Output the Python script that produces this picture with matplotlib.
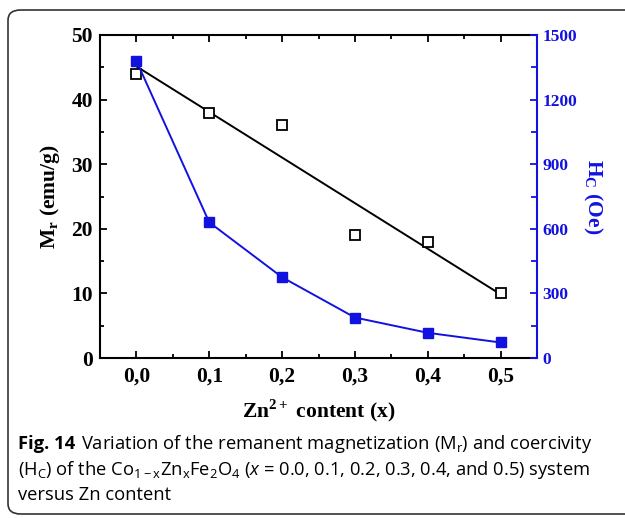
import matplotlib
matplotlib.use('Agg')
import matplotlib.pyplot as plt
import numpy as np
from matplotlib.patches import FancyBboxPatch
from matplotlib.ticker import MultipleLocator, FixedLocator, FixedFormatter

# ===== Data =====
zn_content = [0.0, 0.1, 0.2, 0.3, 0.4, 0.5]
mr_values = [44, 38, 36, 19, 18, 10]          # emu/g
hc_values = [1380, 630, 375, 188, 117, 72]   # Oe
x_ticks = [0.0, 0.1, 0.2, 0.3, 0.4, 0.5]
x_tick_labels = ['0,0', '0,1', '0,2', '0,3', '0,4', '0,5']

serif = 'Liberation Serif'
blue = '#1212e0'

plt.rcParams['mathtext.fontset'] = 'custom'
plt.rcParams['mathtext.bf'] = 'Liberation Serif:bold'
plt.rcParams['mathtext.rm'] = 'Open Sans'
plt.rcParams['mathtext.it'] = 'Open Sans:italic'

fig = plt.figure(figsize=(6.25, 5.18), dpi=100)

# rounded frame around figure + caption
frame = FancyBboxPatch((8 / 625, 4 / 518), 640 / 625, 504 / 518,
                       boxstyle='round,pad=0,rounding_size=0.02',
                       transform=fig.transFigure, fill=False,
                       edgecolor='#333333', linewidth=1.2, clip_on=False)
fig.patches.append(frame)

ax = fig.add_axes([100 / 625, 1 - 358 / 518, 437 / 625, 323 / 518])
ax2 = ax.twinx()

# ===== Mr (left axis) =====
coef = np.polyfit(zn_content, mr_values, 1)
fit_x = np.array([zn_content[0], zn_content[-1]])
ax.plot(fit_x, np.polyval(coef, fit_x), color='black', linewidth=1.4, zorder=2)
ax.plot(zn_content, mr_values, linestyle='none', marker='s', markersize=6.5,
        markerfacecolor='white', markeredgecolor='black', markeredgewidth=1.3, zorder=3)

# ===== Hc (right axis) =====
ax2.plot(zn_content, hc_values, color=blue, linewidth=1.4, marker='s',
         markersize=6.5, markerfacecolor=blue, markeredgecolor=blue)

ax.set_xlim(-0.05, 0.55)
ax.set_ylim(0, 50)
ax2.set_ylim(0, 1500)

ax.xaxis.set_major_locator(FixedLocator(x_ticks))
ax.xaxis.set_major_formatter(FixedFormatter(x_tick_labels))
ax.xaxis.set_minor_locator(MultipleLocator(0.05))
ax.yaxis.set_major_locator(MultipleLocator(10))
ax.yaxis.set_minor_locator(MultipleLocator(5))
ax2.yaxis.set_major_locator(MultipleLocator(300))
ax2.yaxis.set_minor_locator(MultipleLocator(150))

ax.tick_params(axis='both', which='both', direction='in', top=True, width=1.3,
               labelsize=15.5)
ax.tick_params(which='major', length=5)
ax.tick_params(which='minor', length=3)
ax.tick_params(axis='x', pad=6)
ax.tick_params(axis='y', pad=5)
ax2.tick_params(axis='y', which='both', direction='in', colors=blue, width=1.3,
                labelsize=12.5, pad=4)
ax2.tick_params(which='major', length=5)
ax2.tick_params(which='minor', length=4)

for lab in ax.get_xticklabels() + ax.get_yticklabels():
    lab.set_fontfamily(serif)
    lab.set_fontweight('bold')
for lab in ax2.get_yticklabels():
    lab.set_fontfamily(serif)
    lab.set_fontweight('bold')

for side in ['left', 'top', 'bottom']:
    ax.spines[side].set_linewidth(1.5)
ax.spines['right'].set_visible(False)
for side in ['left', 'top', 'bottom']:
    ax2.spines[side].set_visible(False)
ax2.spines['right'].set_color(blue)
ax2.spines['right'].set_linewidth(1.5)

ax.set_ylabel(r'M$_\mathbf{r}$ (emu/g)', fontfamily=serif, fontweight='bold',
              fontsize=15.5, labelpad=7)
ax.set_xlabel(r'Zn$^\mathbf{2+}$ content (x)', fontfamily=serif, fontweight='bold',
              fontsize=15.5, labelpad=8)
ax2.set_ylabel(r'H$_\mathbf{C}$ (Oe)', fontfamily=serif, fontweight='bold',
               fontsize=15.5, color=blue, rotation=-90, labelpad=19)

# ===== Caption =====
cap_font = 'Open Sans'
cap_size = 13.2
fig.canvas.draw()
renderer = fig.canvas.get_renderer()
fig_label = fig.text(18 / 625, 1 - 444 / 518, 'Fig. 14', fontfamily=cap_font,
                     fontweight='bold', fontsize=cap_size, va='center')
bb = fig_label.get_window_extent(renderer)
fig.text(bb.x1 / 625 + 6 / 625, 1 - 444 / 518,
         'Variation of the remanent magnetization (M$_\\mathregular{r}$) and coercivity',
         fontfamily=cap_font, fontsize=cap_size, va='center')
fig.text(18 / 625, 1 - 470 / 518,
         '(H$_\\mathregular{C}$) of the Co$_\\mathregular{1\u2212x}$Zn$_\\mathregular{x}$'
         'Fe$_\\mathregular{2}$O$_\\mathregular{4}$ ($x$ = 0.0, 0.1, 0.2, 0.3, 0.4, and 0.5) system',
         fontfamily=cap_font, fontsize=cap_size, va='center')
fig.text(18 / 625, 1 - 495 / 518, 'versus Zn content', fontfamily=cap_font,
         fontsize=cap_size, va='center')

fig.savefig('out.png', dpi=100)
